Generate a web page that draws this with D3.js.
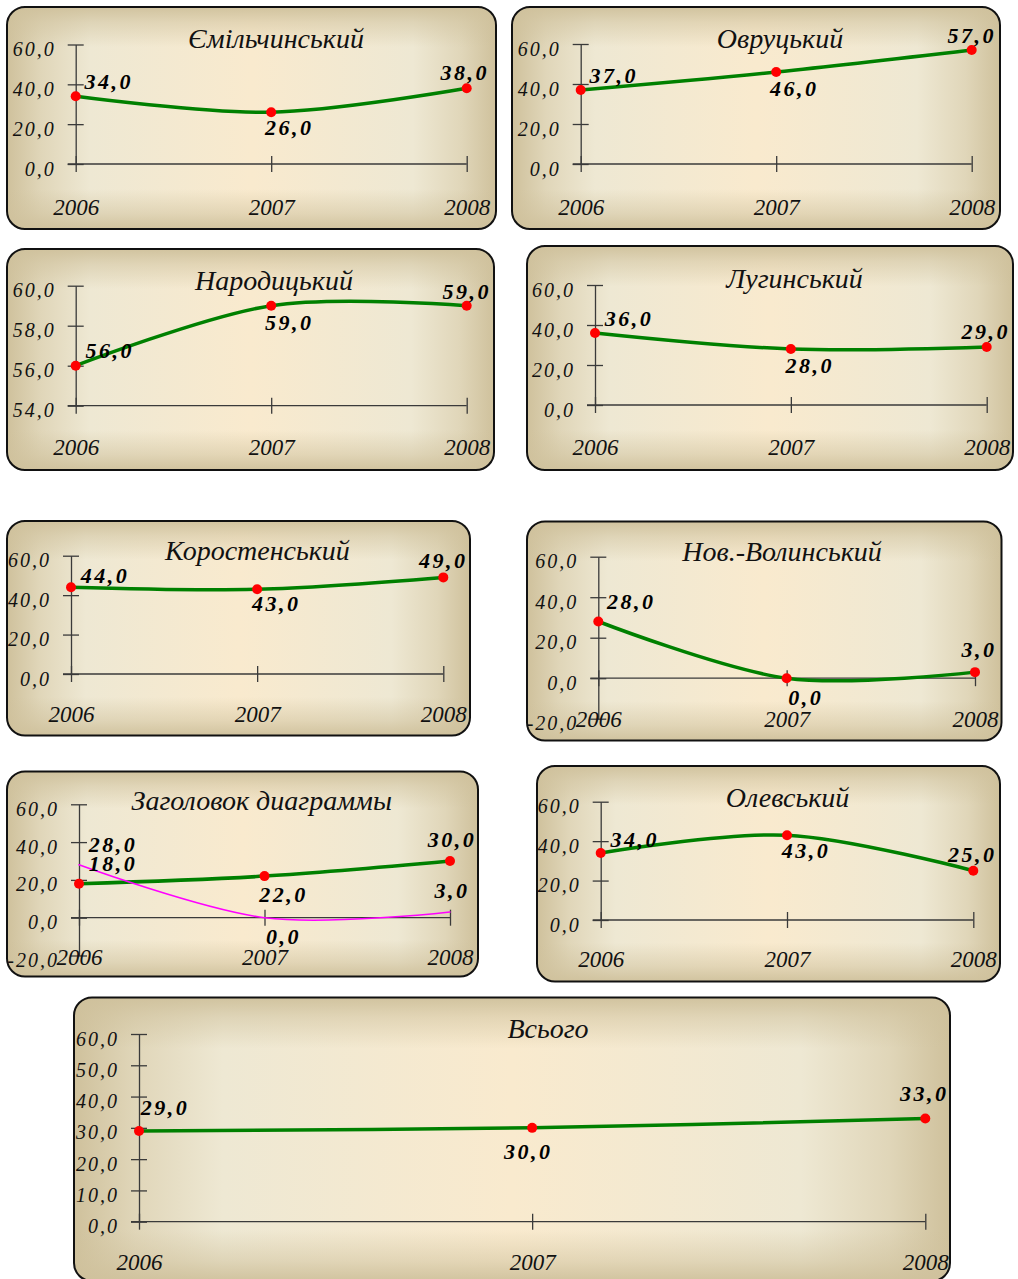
<!DOCTYPE html>
<html>
<head>
<meta charset="utf-8">
<script src="https://cdn.jsdelivr.net/npm/d3@7"></script>
<style>
  html, body { margin: 0; padding: 0; background: #ffffff; }
  svg { display: block; }
  .title { font-family: "Liberation Serif", "Times New Roman", serif; font-style: italic; font-size: 28px; fill: #111; }
  .ytick text { font-family: "Liberation Serif", serif; font-style: italic; font-size: 20px; letter-spacing: 2px; fill: #111; }
  .xtick text { font-family: "Liberation Serif", serif; font-style: italic; font-size: 23px; fill: #111; }
  .vlabel { font-family: "Liberation Serif", serif; font-style: italic; font-weight: bold; font-size: 22px; letter-spacing: 2.5px; fill: #000; }
</style>
</head>
<body>
<svg id="chart" width="1018" height="1279"></svg>
<script>
// ---- data ----
const years = ["2006", "2007", "2008"];

const titles = [
  "Ємільчинський", "Овруцький", "Народицький", "Лугинський",
  "Коростенський", "Нов.-Волинський", "Заголовок диаграммы", "Олевський", "Всього"
];

const emilchynskyi   = [34, 26, 38];
const ovrutskyi      = [37, 46, 57];
const narodytskyi    = [56, 59, 59];
const luhynskyi      = [36, 28, 29];
const korostenskyi   = [44, 43, 49];
const novVolynskyi   = [28, 0, 3];
const headingGreen   = [18, 22, 30];
const headingMagenta = [28, 0, 3];
const olevskyi       = [34, 43, 25];
const total          = [29, 30, 33];

const ticks0to60   = [0, 20, 40, 60];
const ticks54to60  = [54, 56, 58, 60];
const ticksNeg20   = [-20, 0, 20, 40, 60];
const ticksTotal   = [0, 10, 20, 30, 40, 50, 60];

// series per chart: [values, style key]
const chartSeries = [
  [[emilchynskyi, "main"]],
  [[ovrutskyi, "main"]],
  [[narodytskyi, "main"]],
  [[luhynskyi, "main"]],
  [[korostenskyi, "main"]],
  [[novVolynskyi, "main"]],
  [[headingGreen, "main"], [headingMagenta, "thin"]],
  [[olevskyi, "main"]],
  [[total, "main"]]
];
const chartTicks = [ticks0to60, ticks0to60, ticks54to60, ticks0to60, ticks0to60,
                    ticksNeg20, ticksNeg20, ticks0to60, ticksTotal];

// ---- layout of each framed chart ----
// box: frame [x0,y0,x1,y1]; px: x of first/last year; py: y of domain min/max;
// yearY: baseline of year labels; title: [cx, baseline]; off: label offsets (centre dx, baseline dy)
const frames = [
  { box: [7, 7, 496, 229],       px: [75.7, 466.7],  py: [164, 44.5],    yearY: 215,   title: [276, 48],
    off: { r: [33, -7], b: [18, 23], a: [-2, -8] } },
  { box: [512, 7, 1000, 229],    px: [580.7, 971.7], py: [164, 44],      yearY: 215,   title: [780, 48],
    off: { r: [33, -7], b: [18, 24], a: [0, -7] } },
  { box: [7, 249, 494, 470],     px: [75.7, 466.7],  py: [405.7, 285.7], yearY: 455,   title: [274, 290],
    off: { r: [34, -8], b: [18, 24], a: [0, -7] } },
  { box: [527, 246, 1013, 470],  px: [595, 986.7],   py: [405, 285],     yearY: 455,   title: [794.5, 288],
    off: { r: [34, -7], b: [19, 24], a: [-1, -8] } },
  { box: [7, 521, 470, 735.5],   px: [71, 443.3],    py: [674, 555.7],   yearY: 721.7, title: [257.5, 560],
    off: { r: [34, -4], b: [19, 22], a: [0, -9] } },
  { box: [527, 521.5, 1001.5, 740.5], px: [598.3, 975], py: [718.7, 556.7], yearY: 727, title: [782, 560.7],
    off: { r: [33, -13], b: [19, 27], a: [4, -15] } },
  { box: [7, 771.5, 478, 976.5], px: [79, 450],      py: [955.5, 804.3], yearY: 965,   title: [261.7, 810],
    off: { r: [34, -13], b: [19, 26], a: [2, -14] } },
  { box: [537, 766, 1000, 981.5], px: [600.7, 973.3], py: [920, 801.7],  yearY: 966.7, title: [787.5, 806.7],
    off: { r: [34, -6], b: [19, 23], a: [-1, -9] } },
  { box: [74, 997.5, 950, 1281], px: [139, 925.3],   py: [1221.7, 1034], yearY: 1270,  title: [548, 1037.7],
    off: { r: [26, -16], b: [-4, 31], a: [-1, -17] } }
];

const labelSlot = ["r", "b", "a"];
// one decimal, comma separator, plain hyphen for negatives
const fmt = d3.formatLocale({
  decimal: ",", thousands: " ", grouping: [3], currency: ["", ""], minus: "-"
}).format(".1f");

const svg = d3.select("#chart");
const defs = svg.append("defs");

// parchment fill: horizontal base plus a vertical edge darkening
const gH = defs.append("linearGradient").attr("id", "bgH")
  .attr("x1", 0).attr("y1", 0).attr("x2", 1).attr("y2", 0);
[[0, "#CFC19C"], [0.07, "#E0D6B9"], [0.17, "#EEE8D3"], [0.5, "#F9EACE"],
 [0.83, "#EEE8D3"], [0.93, "#E0D6B9"], [1, "#CFC19C"]]
  .forEach(([o, c]) => gH.append("stop").attr("offset", o).attr("stop-color", c));

const gV = defs.append("linearGradient").attr("id", "bgV")
  .attr("x1", 0).attr("y1", 0).attr("x2", 0).attr("y2", 1);
[[0, 0.95], [0.07, 0.5], [0.18, 0], [0.82, 0], [0.93, 0.5], [1, 0.95]]
  .forEach(([o, a]) => gV.append("stop").attr("offset", o)
    .attr("stop-color", "#CFC19C").attr("stop-opacity", a));

const lineStyle = {
  main: { stroke: "#008000", width: 3.5, markers: true },
  thin: { stroke: "#FF00FF", width: 1.6, markers: false }
};

frames.forEach((f, i) => {
  const g = svg.append("g");
  const [x0, y0, x1, y1] = f.box;
  const ticks = chartTicks[i];
  const dom = [d3.min(ticks), d3.max(ticks)];

  const x = d3.scalePoint().domain(years).range(f.px);
  const y = d3.scaleLinear().domain(dom).range(f.py);

  // frame
  g.append("rect").attr("x", x0).attr("y", y0).attr("width", x1 - x0).attr("height", y1 - y0)
    .attr("rx", 18).attr("ry", 18).attr("fill", "url(#bgH)");
  g.append("rect").attr("x", x0).attr("y", y0).attr("width", x1 - x0).attr("height", y1 - y0)
    .attr("rx", 18).attr("ry", 18).attr("fill", "url(#bgV)")
    .attr("stroke", "#111").attr("stroke-width", 2);

  // value axis
  const baseY = dom[0] < 0 ? y(0) : y(dom[0]);
  const yAxis = g.append("g").attr("class", "ytick")
    .attr("transform", `translate(${f.px[0]},0)`)
    .call(d3.axisLeft(y).tickValues(ticks).tickFormat(fmt).tickSizeInner(8).tickSizeOuter(0));
  yAxis.select(".domain").attr("stroke", "#3a3a3a").attr("stroke-width", 1.3);
  yAxis.selectAll(".tick line").attr("x1", 8).attr("x2", -8).attr("stroke", "#3a3a3a").attr("stroke-width", 1.3);
  yAxis.selectAll(".tick text").attr("x", -20).attr("dy", null).attr("y", 11)
    .attr("font-family", null).attr("font-size", null);

  // category axis
  const xAxis = g.append("g").attr("class", "xtick")
    .attr("transform", `translate(0,${baseY})`)
    .call(d3.axisBottom(x).tickSizeInner(8).tickSizeOuter(0));
  xAxis.select(".domain").attr("d", `M${f.px[0] - 8},0H${f.px[1]}`)
    .attr("stroke", "#3a3a3a").attr("stroke-width", 1.3);
  xAxis.selectAll(".tick line").attr("y1", -8).attr("y2", 8).attr("stroke", "#3a3a3a").attr("stroke-width", 1.3);
  xAxis.selectAll(".tick text").attr("y", f.yearY - baseY).attr("dy", null)
    .attr("font-family", null).attr("font-size", null);

  const line = d3.line().x((d, k) => x(years[k])).y(d => y(d)).curve(d3.curveCardinal.tension(0));

  chartSeries[i].forEach(([vals, key]) => {
    const st = lineStyle[key];
    g.append("path").datum(vals).attr("d", line)
      .attr("fill", "none").attr("stroke", st.stroke).attr("stroke-width", st.width)
      .attr("stroke-linecap", "round").attr("stroke-linejoin", "round");
    if (st.markers) {
      g.selectAll(null).data(vals).enter().append("circle")
        .attr("cx", (d, k) => x(years[k])).attr("cy", d => y(d)).attr("r", 5)
        .attr("fill", "#FF0000");
    }
  });

  chartSeries[i].forEach(([vals]) => {
    g.selectAll(null).data(vals).enter().append("text")
      .attr("class", "vlabel").attr("text-anchor", "middle")
      .attr("x", (d, k) => x(years[k]) + f.off[labelSlot[k]][0])
      .attr("y", (d, k) => y(d) + f.off[labelSlot[k]][1])
      .text(fmt);
  });

  g.append("text").attr("class", "title").attr("text-anchor", "middle")
    .attr("x", f.title[0]).attr("y", f.title[1]).text(titles[i]);
});
</script>
</body>
</html>
